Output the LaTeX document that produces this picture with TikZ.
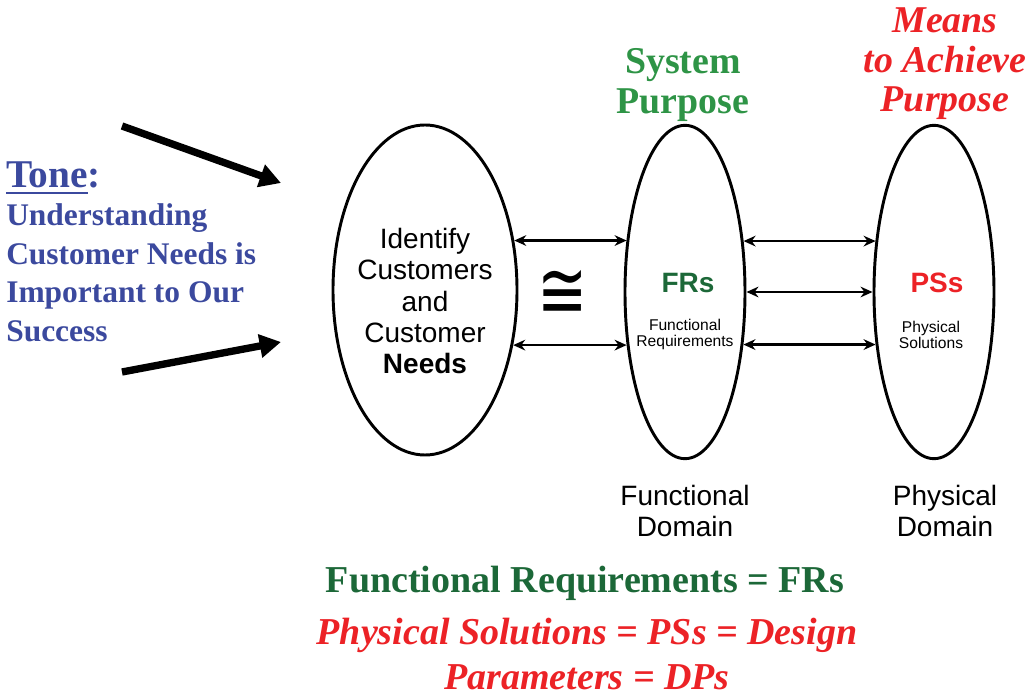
\documentclass[tikz,border=0pt]{standalone}
\usepackage{graphicx}
\usepackage{fontspec}
\setmainfont{Liberation Serif}
\setsansfont{Liberation Sans}
\newfontfamily\relfont{DejaVu Sans}
\usetikzlibrary{arrows.meta,shapes.geometric,calc}
\definecolor{toneblue}{RGB}{59,73,158}
\definecolor{purposegreen}{RGB}{46,148,70}
\definecolor{frgreen}{RGB}{28,104,56}
\definecolor{meansred}{RGB}{236,34,38}
% underline with a heavier rule than \underline
\newcommand\thickul[1]{\setbox0\hbox{#1}\rlap{\rule[-5.6pt]{\wd0}{2.2pt}}\box0}

\begin{document}
\begin{tikzpicture}[x=0.75pt,y=-0.75pt,
  domainoval/.style={ellipse,draw,line width=2.2pt,inner sep=0pt},
  pair/.style={line width=1.6pt,{Stealth[length=9pt,width=8pt]}-{Stealth[length=9pt,width=8pt]}},
  push/.style={line width=5.5pt,-{Triangle[length=16pt,width=17pt]}},
  bigsans/.style={align=center,font=\sffamily\fontsize{21}{23.4}\selectfont},
  smallsans/.style={align=center,font=\sffamily\fontsize{11.7}{12}\selectfont},
  abbrev/.style={font=\sffamily\bfseries\fontsize{21}{21}\selectfont},
  heading/.style={align=center,font=\rmfamily\bfseries\fontsize{28.4}{29.6}\selectfont},
  definition/.style={align=center,font=\rmfamily\bfseries\fontsize{28.5}{34}\selectfont}
]
\useasboundingbox (0,0) rectangle (1032,695);

% the three domains
\node[domainoval,minimum width=138pt,minimum height=247.5pt] (L) at (425,290) {};
\node[domainoval,minimum width=90pt,minimum height=250pt] (FR) at (685,292) {};
\node[domainoval,minimum width=90pt,minimum height=250pt] (PS) at (934,292) {};

% contents of the domains
\node[bigsans] (needs) at (425,301) {Identify\\Customers\\and\\Customer\\\textbf{Needs}};
\node[abbrev,text=frgreen] (frs) at (688,283) {FRs};
\node[smallsans] (frtext) at (685,334) {Functional\\Requirements};
\node[abbrev,text=meansred] (pss) at (937,283) {PSs};
\node[smallsans] (pstext) at (931,335) {Physical\\Solutions};

% mappings between the domains
\draw[pair] (L.29.15) -- (L.29.15 -| FR.138.23);
\draw[pair] (L.-32.39) -- (L.-32.39 -| FR.222.97);
\draw[pair] (FR.41.77) -- (FR.41.77 -| PS.138.23);
\draw[pair] (FR.east) -- (FR.east -| PS.west);
\draw[pair] (FR.-42.97) -- (FR.-42.97 -| PS.222.97);

\node[inner sep=0pt,font=\relfont\fontsize{45}{45}\selectfont] (cong) at (563,294) {\scalebox{1}[1.35]{≅}};

% domain names
\node[bigsans] (fdom) at (685,511) {Functional\\Domain};
\node[bigsans] (pdom) at (945,511) {Physical\\Domain};

% headings above the domains
\node[heading,text=purposegreen] (purpose) at (683,85) {System\\Purpose};
\node[heading,text=meansred,font=\rmfamily\bfseries\itshape\fontsize{28.4}{29.6}\selectfont] (means) at (945,64) {Means\\to Achieve\\Purpose};

% tone statement with its two arrows
\node[align=left,anchor=north west,inner sep=0pt,text=toneblue,
      font=\rmfamily\bfseries\fontsize{23.6}{28.9}\selectfont] (tone) at (6,161)
  {{\fontsize{29.5}{28.9}\selectfont\thickul{Tone}:}\\Understanding\\Customer Needs is\\Important to Our\\Success};
\coordinate (u0) at (122,126);
\coordinate (u1) at (281,183);
\coordinate (d0) at (122,372);
\coordinate (d1) at (281,342);
\draw[push] (u0) -- (u1);
\draw[push] (d0) -- (d1);

% definitions
\node[definition,text=frgreen] (frdef) at (585,583) {Functional Requirements = FRs};
\node[definition,text=meansred,font=\rmfamily\bfseries\itshape\fontsize{28.5}{34}\selectfont] (psdef) at (587,654) {Physical Solutions = PSs = Design\\Parameters = DPs};
\end{tikzpicture}
\end{document}
